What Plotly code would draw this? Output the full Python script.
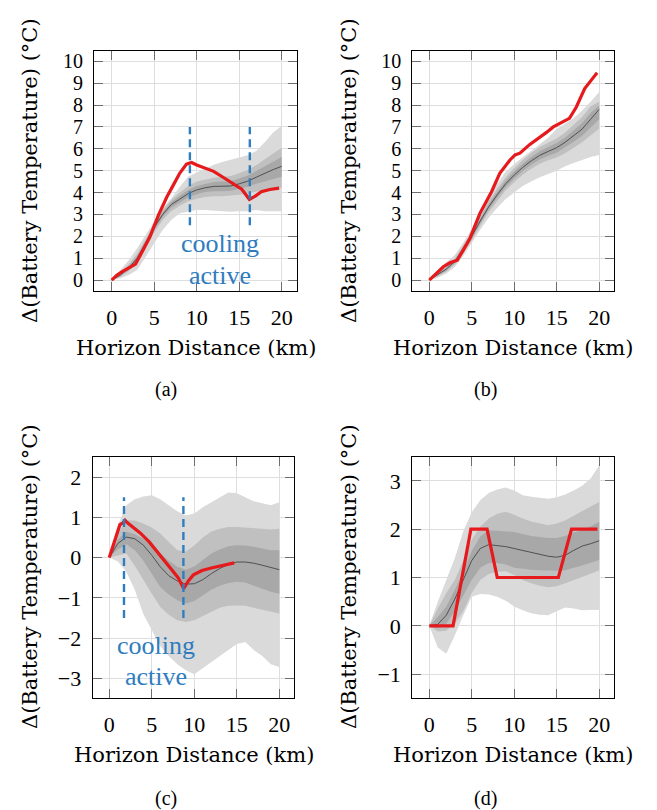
import plotly.graph_objects as go

W, H = 657, 810

# ---------------- data ----------------
dist = list(range(0, 21))

# (a)
mean_a = [0, 0.22, 0.55, 1.0, 1.7, 2.4, 3.0, 3.45, 3.7, 3.95, 4.12, 4.22, 4.28, 4.28, 4.3, 4.4, 4.52, 4.7, 4.88, 5.05, 5.2]
outer_hi_a = [0, 0.46, 0.91, 1.45, 2.06, 2.67, 3.28, 3.73, 4.27, 4.73, 4.9, 5.1, 5.27, 5.4, 5.5, 5.58, 5.7, 5.9, 6.3, 6.75, 7.05]
outer_lo_a = [0, 0.08, 0.23, 0.46, 1.07, 1.68, 2.29, 2.74, 3.05, 3.12, 3.2, 3.2, 3.18, 3.15, 3.12, 3.14, 3.15, 3.2, 3.15, 3.15, 3.15]
mid_hi_a = [0, 0.32, 0.72, 1.2, 1.88, 2.6, 3.2, 3.66, 4.0, 4.3, 4.5, 4.6, 4.68, 4.72, 4.76, 4.88, 5.03, 5.25, 5.5, 5.78, 6.05]
mid_lo_a = [0, 0.14, 0.4, 0.8, 1.5, 2.18, 2.75, 3.15, 3.4, 3.6, 3.72, 3.8, 3.83, 3.83, 3.85, 3.9, 3.97, 4.05, 4.12, 4.18, 4.22]
in_hi_a = [0, 0.27, 0.63, 1.1, 1.8, 2.5, 3.1, 3.56, 3.85, 4.12, 4.3, 4.4, 4.48, 4.5, 4.52, 4.64, 4.78, 4.98, 5.2, 5.42, 5.62]
in_lo_a = [0, 0.18, 0.47, 0.9, 1.6, 2.3, 2.88, 3.3, 3.55, 3.78, 3.92, 4.02, 4.06, 4.06, 4.08, 4.16, 4.26, 4.4, 4.52, 4.62, 4.72]
red_a_x = [0, 0.6, 1.2, 2.2, 2.8, 3.7, 4.5, 5.5, 6.5, 7.25, 8.0, 8.8, 9.4, 10.0, 11.0, 12.0, 13.1, 14.3, 15.3, 16.2, 16.9, 17.6, 18.6, 19.7]
red_a_y = [0, 0.22, 0.38, 0.61, 0.73, 1.37, 1.98, 2.97, 3.81, 4.34, 4.88, 5.3, 5.37, 5.26, 5.1, 4.97, 4.7, 4.42, 4.15, 3.69, 3.84, 4.04, 4.14, 4.2]
cool_a_x = [9.2, 16.25]
cool_a_y = [2.5, 7.0]

# (b)
mean_b = [0, 0.25, 0.5, 0.85, 1.4, 2.0, 2.7, 3.35, 3.9, 4.4, 4.8, 5.15, 5.45, 5.7, 5.88, 6.05, 6.3, 6.6, 6.9, 7.35, 7.8]
outer_hi_b = [0, 0.42, 0.8, 1.15, 1.7, 2.35, 3.1, 3.8, 4.4, 4.95, 5.3, 5.6, 5.9, 6.2, 6.5, 6.9, 7.15, 7.4, 7.75, 8.15, 8.6]
outer_lo_b = [0, 0.1, 0.3, 0.6, 1.1, 1.7, 2.3, 2.85, 3.3, 3.7, 4.0, 4.3, 4.5, 4.7, 4.85, 5.0, 5.2, 5.35, 5.5, 5.62, 5.72]
mid_hi_b = [0, 0.33, 0.62, 1.0, 1.58, 2.2, 2.92, 3.6, 4.18, 4.7, 5.12, 5.49, 5.81, 6.08, 6.28, 6.47, 6.75, 7.1, 7.45, 7.95, 8.15]
mid_lo_b = [0, 0.17, 0.38, 0.7, 1.22, 1.8, 2.48, 3.1, 3.62, 4.1, 4.48, 4.81, 5.09, 5.32, 5.48, 5.6, 5.8, 6.05, 6.3, 6.6, 6.93]
in_hi_b = [0, 0.29, 0.56, 0.92, 1.49, 2.1, 2.81, 3.48, 4.04, 4.55, 4.96, 5.32, 5.63, 5.89, 6.08, 6.26, 6.52, 6.85, 7.18, 7.65, 7.98]
in_lo_b = [0, 0.21, 0.44, 0.78, 1.31, 1.9, 2.59, 3.22, 3.76, 4.25, 4.64, 4.98, 5.27, 5.51, 5.68, 5.82, 6.05, 6.32, 6.6, 6.97, 7.35]
red_b_x = [0, 0.86, 1.65, 2.43, 3.3, 4.0, 4.78, 5.96, 6.75, 7.33, 8.3, 9.5, 10.1, 10.67, 11.84, 13.0, 13.8, 14.6, 15.6, 16.5, 17.3, 18.3, 19.1, 19.76]
red_b_y = [0, 0.3, 0.61, 0.79, 0.91, 1.37, 1.9, 3.05, 3.66, 4.04, 4.88, 5.49, 5.72, 5.8, 6.2, 6.5, 6.75, 7.0, 7.22, 7.39, 7.9, 8.75, 9.15, 9.48]

# (c)
mean_c = [0, 0.35, 0.51, 0.47, 0.31, 0.06, -0.23, -0.45, -0.58, -0.66, -0.65, -0.55, -0.4, -0.27, -0.17, -0.11, -0.11, -0.14, -0.19, -0.25, -0.3]
outer_hi_c = [0, 0.8, 1.3, 1.45, 1.52, 1.55, 1.45, 1.3, 1.15, 1.05, 1.1, 1.25, 1.38, 1.5, 1.62, 1.6, 1.5, 1.4, 1.35, 1.3, 1.38]
outer_lo_c = [0, -0.1, -0.35, -0.8, -1.4, -1.8, -2.2, -2.45, -2.65, -2.8, -2.9, -2.75, -2.6, -2.45, -2.3, -2.15, -2.1, -2.3, -2.45, -2.65, -2.72]
mid_hi_c = [0, 0.6, 0.93, 0.92, 0.85, 0.75, 0.6, 0.4, 0.18, 0.15, 0.3, 0.5, 0.65, 0.72, 0.76, 0.76, 0.75, 0.73, 0.72, 0.7, 0.72]
mid_lo_c = [0, 0.05, 0.1, -0.2, -0.56, -0.9, -1.23, -1.42, -1.56, -1.6, -1.56, -1.45, -1.35, -1.25, -1.2, -1.19, -1.2, -1.25, -1.3, -1.35, -1.39]
in_hi_c = [0, 0.45, 0.64, 0.58, 0.47, 0.3, 0.1, -0.08, -0.23, -0.3, -0.22, -0.05, 0.1, 0.2, 0.28, 0.31, 0.3, 0.27, 0.22, 0.18, 0.18]
in_lo_c = [0, 0.2, 0.33, 0.18, -0.07, -0.4, -0.73, -0.92, -1.06, -1.14, -1.08, -0.95, -0.8, -0.7, -0.63, -0.6, -0.62, -0.7, -0.78, -0.85, -0.9]
red_c_x = [0, 1.25, 1.6, 1.85, 2.1, 2.5, 3.6, 4.7, 5.9, 7.1, 8.1, 8.75, 9.3, 9.9, 10.9, 12.0, 13.4, 14.7]
red_c_y = [0, 0.82, 0.86, 0.93, 0.87, 0.8, 0.62, 0.39, 0.08, -0.22, -0.5, -0.77, -0.58, -0.43, -0.32, -0.26, -0.2, -0.13]
cool_c_x = [1.73, 8.72]
cool_c_y = [-1.5, 1.5]

# (d)
mean_d = [0, 0.03, 0.22, 0.55, 0.95, 1.35, 1.6, 1.68, 1.66, 1.64, 1.6, 1.56, 1.53, 1.48, 1.44, 1.42, 1.46, 1.56, 1.65, 1.7, 1.76]
outer_hi_d = [0, 0.5, 0.95, 1.4, 1.95, 2.35, 2.6, 2.75, 2.82, 2.86, 2.8, 2.7, 2.67, 2.65, 2.63, 2.66, 2.72, 2.8, 2.9, 3.05, 3.32]
outer_lo_d = [0, -0.45, -0.58, -0.2, 0.22, 0.6, 0.66, 0.65, 0.6, 0.52, 0.4, 0.32, 0.26, 0.23, 0.22, 0.3, 0.38, 0.36, 0.32, 0.32, 0.33]
mid_hi_d = [0, 0.36, 0.68, 0.95, 1.35, 1.78, 2.05, 2.22, 2.32, 2.36, 2.3, 2.22, 2.16, 2.12, 2.08, 2.12, 2.18, 2.28, 2.38, 2.47, 2.56]
mid_lo_d = [0, -0.12, -0.1, 0.05, 0.3, 0.68, 0.95, 1.07, 1.12, 1.13, 1.05, 0.95, 0.88, 0.83, 0.8, 0.82, 0.88, 0.95, 1.01, 1.08, 1.15]
in_hi_d = [0, 0.18, 0.4, 0.74, 1.12, 1.55, 1.85, 1.98, 1.97, 1.95, 1.94, 1.9, 1.86, 1.84, 1.82, 1.82, 1.86, 1.93, 1.98, 2.06, 2.15]
in_lo_d = [0, -0.05, 0.05, 0.3, 0.62, 0.95, 1.2, 1.3, 1.3, 1.27, 1.2, 1.18, 1.16, 1.15, 1.14, 1.14, 1.15, 1.2, 1.25, 1.3, 1.36]
red_d_x = [0, 2.8, 4.9, 6.8, 8.0, 15.2, 16.75, 19.8]
red_d_y = [0, 0, 2, 2, 1, 1, 2, 2]

x_ticks = [0, 5, 10, 15, 20]
y_ticks_ab = list(range(0, 11))
y_ticks_c = [-3, -2, -1, 0, 1, 2]
y_ticks_d = [-1, 0, 1, 2, 3]

# ---------------- styling ----------------
C_OUT = "rgb(218,218,218)"
C_MID = "rgb(192,192,192)"
C_IN = "rgb(168,168,168)"
C_MEAN = "rgb(80,80,80)"
C_RED = "rgb(230,25,28)"
C_BLUE = "rgb(47,125,190)"
SERIF = "Liberation Serif"
WIDE_SERIF = "DejaVu Serif"
TICKFONT = dict(family=SERIF, size=22, color="black")
TICKFONT_DENSE = dict(family=SERIF, size=20, color="black")
TITLEFONT = dict(family=WIDE_SERIF, size=21, color="black")
CAPFONT = dict(family=SERIF, size=20, color="black")

fig = go.Figure()


def px_x(X):
    return X / W


def px_y(Y):
    return 1 - Y / H


panels = [
    ("", (94, 297), (51, 291), [-2.08, 21.8], [-0.5, 10.47], y_ticks_ab,
     (mean_a, outer_hi_a, outer_lo_a, mid_hi_a, mid_lo_a, in_hi_a, in_lo_a, red_a_x, red_a_y)),
    ("2", (412.3, 614), (51, 291), [-2.0, 21.75], [-0.5, 10.47], y_ticks_ab,
     (mean_b, outer_hi_b, outer_lo_b, mid_hi_b, mid_lo_b, in_hi_b, in_lo_b, red_b_x, red_b_y)),
    ("3", (92.7, 294), (456.7, 698.3), [-1.95, 21.73], [-3.5, 2.51], y_ticks_c,
     (mean_c, outer_hi_c, outer_lo_c, mid_hi_c, mid_lo_c, in_hi_c, in_lo_c, red_c_x, red_c_y)),
    ("4", (412.3, 614), (456.7, 698.3), [-2.0, 21.75], [-1.5, 3.5], y_ticks_d,
     (mean_d, outer_hi_d, outer_lo_d, mid_hi_d, mid_lo_d, in_hi_d, in_lo_d, red_d_x, red_d_y)),
]

layout_axes = {}
for key, (x0, x1), (y0, y1), xr, yr, yt, data in panels:
    xa, ya = "x" + key, "y" + key
    mean, ohi, olo, mhi, mlo, ihi, ilo, rx, ry = data
    for hi, lo, col in ((ohi, olo, C_OUT), (mhi, mlo, C_MID), (ihi, ilo, C_IN)):
        fig.add_trace(go.Scatter(
            x=dist + dist[::-1], y=hi + lo[::-1], fill="toself", fillcolor=col,
            line=dict(width=0), mode="lines", hoverinfo="skip", showlegend=False,
            xaxis=xa, yaxis=ya))
    fig.add_trace(go.Scatter(x=dist, y=mean, mode="lines", line=dict(color=C_MEAN, width=1),
                             showlegend=False, xaxis=xa, yaxis=ya))
    fig.add_trace(go.Scatter(x=rx, y=ry, mode="lines", line=dict(color=C_RED, width=3.2),
                             showlegend=False, xaxis=xa, yaxis=ya))
    common = dict(showgrid=True, gridcolor="rgb(222,222,222)", gridwidth=1,
                  showline=True, linecolor="black", linewidth=1.2, mirror="ticks",
                  ticks="inside", ticklen=9, tickwidth=1, tickcolor="rgb(110,110,110)",
                  zeroline=False, ticklabelstandoff=6)
    yfont = TICKFONT_DENSE if len(yt) > 6 else TICKFONT
    layout_axes["xaxis" + key] = dict(common, domain=[px_x(x0), px_x(x1)], range=xr,
                                      tickmode="array", tickvals=x_ticks, anchor=ya,
                                      tickfont=TICKFONT)
    layout_axes["yaxis" + key] = dict(common, domain=[px_y(y1), px_y(y0)], range=yr,
                                      tickmode="array", tickvals=yt, anchor=xa,
                                      tickfont=yfont)

# cooling markers
for xs, ys, xa, ya in ((cool_a_x, cool_a_y, "x", "y"), (cool_c_x, cool_c_y, "x3", "y3")):
    for xv in xs:
        fig.add_trace(go.Scatter(x=[xv, xv], y=ys, mode="lines",
                                 line=dict(color=C_BLUE, width=2.4, dash="8px,5px"),
                                 showlegend=False, xaxis=xa, yaxis=ya))

fig.update_layout(**layout_axes)

annotations = []
ytitle = "Δ(Battery Temperature) (°C)"
xtitle = "Horizon Distance (km)"
for X, Y in ((30, 171), (349, 171), (30, 577), (349, 577)):
    annotations.append(dict(text=ytitle, x=px_x(X), y=px_y(Y), xref="paper", yref="paper",
                            xanchor="center", yanchor="middle", textangle=-90,
                            showarrow=False, font=TITLEFONT))
for X, Y in ((196, 348), (513, 348), (194, 755), (513, 755)):
    annotations.append(dict(text=xtitle, x=px_x(X), y=px_y(Y), xref="paper", yref="paper",
                            xanchor="center", yanchor="middle", showarrow=False, font=TITLEFONT))
for cap, X, Y in (("(a)", 166, 390), ("(b)", 485, 390), ("(c)", 166, 798), ("(d)", 485, 798)):
    annotations.append(dict(text=cap, x=px_x(X), y=px_y(Y), xref="paper", yref="paper",
                            xanchor="center", yanchor="middle", showarrow=False, font=CAPFONT))
coolfont = dict(family=SERIF, size=26, color=C_BLUE)
for xref, yref, xv, y1, y2 in (("x", "y", 12.74, 1.69, 0.23), ("x3", "y3", 5.49, -2.18, -2.97)):
    annotations.append(dict(text="cooling", x=xv, y=y1, xref=xref, yref=yref, showarrow=False,
                            xanchor="center", yanchor="middle", font=coolfont))
    annotations.append(dict(text="active", x=xv, y=y2, xref=xref, yref=yref, showarrow=False,
                            xanchor="center", yanchor="middle", font=coolfont))

fig.update_layout(width=W, height=H, margin=dict(l=0, r=0, t=0, b=0),
                  paper_bgcolor="white", plot_bgcolor="white",
                  annotations=annotations, showlegend=False)

fig.write_html("out.html")
